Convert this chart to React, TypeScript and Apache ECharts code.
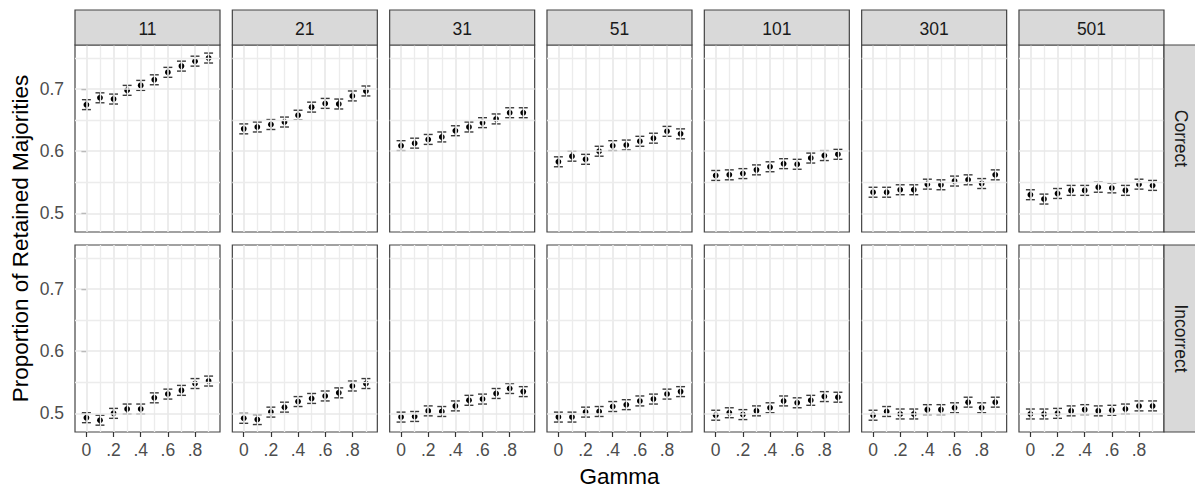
import React, { useEffect, useRef } from "react";
import * as echarts from "echarts";

const gammaValues = [0, 0.1, 0.2, 0.3, 0.4, 0.5, 0.6, 0.7, 0.8, 0.9];
const sizeLabels = ["11", "21", "31", "51", "101", "301", "501"];
const conditionLabels = ["Correct", "Incorrect"];

const correct11 = [0.675, 0.686, 0.684, 0.698, 0.706, 0.715, 0.727, 0.737, 0.745, 0.75];
const correct21 = [0.636, 0.639, 0.643, 0.647, 0.658, 0.671, 0.677, 0.676, 0.689, 0.697];
const correct31 = [0.609, 0.613, 0.619, 0.623, 0.633, 0.639, 0.646, 0.652, 0.662, 0.662];
const correct51 = [0.583, 0.592, 0.587, 0.6, 0.609, 0.61, 0.616, 0.621, 0.632, 0.628];
const correct101 = [0.561, 0.562, 0.564, 0.57, 0.575, 0.58, 0.579, 0.589, 0.593, 0.595];
const correct301 = [0.534, 0.534, 0.538, 0.538, 0.547, 0.546, 0.552, 0.554, 0.548, 0.562];
const correct501 = [0.53, 0.523, 0.532, 0.537, 0.537, 0.542, 0.541, 0.537, 0.547, 0.545];

const incorrect11 = [0.493, 0.489, 0.5, 0.507, 0.507, 0.525, 0.531, 0.537, 0.548, 0.552];
const incorrect21 = [0.492, 0.49, 0.502, 0.51, 0.519, 0.524, 0.528, 0.533, 0.544, 0.548];
const incorrect31 = [0.494, 0.495, 0.504, 0.503, 0.512, 0.521, 0.523, 0.532, 0.54, 0.535];
const incorrect51 = [0.494, 0.494, 0.502, 0.503, 0.511, 0.514, 0.52, 0.523, 0.531, 0.535];
const incorrect101 = [0.497, 0.501, 0.498, 0.504, 0.509, 0.52, 0.517, 0.521, 0.527, 0.526];
const incorrect301 = [0.497, 0.503, 0.499, 0.499, 0.506, 0.506, 0.509, 0.518, 0.509, 0.518];
const incorrect501 = [0.499, 0.499, 0.5, 0.504, 0.506, 0.504, 0.505, 0.507, 0.512, 0.512];

const correctRows = [correct11, correct21, correct31, correct51, correct101, correct301, correct501];
const incorrectRows = [incorrect11, incorrect21, incorrect31, incorrect51, incorrect101, incorrect301, incorrect501];

const errorMargin = 0.008;
const capHalfWidth = 0.033;

const xTickValues = [0, 0.2, 0.4, 0.6, 0.8];
const xMajorGrid = [0, 0.2, 0.4, 0.6, 0.8];
const xMinorGrid = [0.1, 0.3, 0.5, 0.7, 0.9];
const yTickValues = [0.5, 0.6, 0.7];
const yMinorGrid = [0.55, 0.65, 0.75];

const X_MIN = -0.084;
const X_MAX = 0.984;
const Y_MIN = 0.47;
const Y_MAX = 0.771;

const FONT = "'Liberation Sans', Arial, Helvetica, sans-serif";

const PANEL_LEFT0 = 75;
const PANEL_STEP = 157.33;
const PANEL_W = 145;
const ROW_TOPS = [45, 245];
const PANEL_H = 187;
const STRIP_H = 35;

export default function App() {
  const ref = useRef<HTMLDivElement>(null);

  useEffect(() => {
    if (!ref.current) return;
    const chart = echarts.init(ref.current, undefined, { renderer: "svg" });

    const grids: any[] = [];
    const xAxes: any[] = [];
    const yAxes: any[] = [];
    const series: any[] = [];
    const graphics: any[] = [];

    const rows = [correctRows, incorrectRows];

    rows.forEach((rowData, r) => {
      rowData.forEach((vals, c) => {
        const idx = r * 7 + c;
        const left = PANEL_LEFT0 + c * PANEL_STEP;
        const top = ROW_TOPS[r];
        grids.push({
          left,
          top,
          width: PANEL_W,
          height: PANEL_H,
          show: true,
          backgroundColor: "#ffffff",
          borderColor: "#444444",
          borderWidth: 1.2,
        });
        const isBottom = r === 1;
        const isLeft = c === 0;
        xAxes.push({
          type: "value",
          gridIndex: idx,
          min: X_MIN,
          max: X_MAX,
          axisLine: { show: false },
          splitLine: { show: false },
          axisTick: {
            show: isBottom,
            customValues: xTickValues,
            length: 5,
            lineStyle: { color: "#333333", width: 1.2 },
          },
          axisLabel: {
            show: isBottom,
            customValues: xTickValues,
            margin: 9,
            color: "#4d4d4d",
            fontSize: 17.5,
            fontFamily: FONT,
            formatter: (v: number) => (v === 0 ? "0" : "." + Math.round(v * 10)),
          },
        });
        yAxes.push({
          type: "value",
          gridIndex: idx,
          min: Y_MIN,
          max: Y_MAX,
          axisLine: { show: false },
          splitLine: { show: false },
          axisTick: {
            show: isLeft,
            customValues: yTickValues,
            length: 5,
            lineStyle: { color: "#333333", width: 1.2 },
          },
          axisLabel: {
            show: isLeft,
            customValues: yTickValues,
            margin: 11,
            color: "#4d4d4d",
            fontSize: 17.5,
            fontFamily: FONT,
            formatter: (v: number) => v.toFixed(1),
          },
        });

        const gridLineData: any[] = [];
        xMajorGrid.forEach((v) =>
          gridLineData.push({ xAxis: v, lineStyle: { color: "#e8e8e8", width: 1.6, type: "solid" } })
        );
        xMinorGrid.forEach((v) =>
          gridLineData.push({ xAxis: v, lineStyle: { color: "#ececec", width: 1.3, type: "solid" } })
        );
        yTickValues.forEach((v) =>
          gridLineData.push({ yAxis: v, lineStyle: { color: "#e8e8e8", width: 1.6, type: "solid" } })
        );
        yMinorGrid.forEach((v) =>
          gridLineData.push({ yAxis: v, lineStyle: { color: "#ececec", width: 1.3, type: "solid" } })
        );

        series.push({
          type: "scatter",
          xAxisIndex: idx,
          yAxisIndex: idx,
          data: [],
          z: 1,
          silent: true,
          markLine: {
            silent: true,
            symbol: ["none", "none"],
            label: { show: false },
            animation: false,
            data: gridLineData,
          },
        });

        series.push({
          type: "custom",
          xAxisIndex: idx,
          yAxisIndex: idx,
          z: 3,
          silent: true,
          encode: { x: 0, y: [1, 2, 3] },
          data: gammaValues.map((g, i) => [g, vals[i] - errorMargin, vals[i] + errorMargin, vals[i]]),
          renderItem: (params: any, api: any) => {
            const x = api.value(0);
            const lo = api.value(1);
            const hi = api.value(2);
            const mid = api.value(3);
            const pLo = api.coord([x, lo]);
            const pHi = api.coord([x, hi]);
            const pMid = api.coord([x, mid]);
            const l = api.coord([x - capHalfWidth, lo])[0];
            const rr = api.coord([x + capHalfWidth, lo])[0];
            const st = { stroke: "#3a3a3a", lineWidth: 1.4 };
            return {
              type: "group",
              children: [
                { type: "line", shape: { x1: pLo[0], y1: pLo[1], x2: pHi[0], y2: pHi[1] }, style: st },
                { type: "line", shape: { x1: l, y1: pLo[1], x2: rr, y2: pLo[1] }, style: st },
                { type: "line", shape: { x1: l, y1: pHi[1], x2: rr, y2: pHi[1] }, style: st },
                {
                  type: "circle",
                  shape: { cx: pMid[0], cy: pMid[1], r: 2.9 },
                  style: { fill: "#000000", stroke: "none" },
                },
              ],
            };
          },
        });
      });
    });

    // top strips
    sizeLabels.forEach((lab, c) => {
      const left = PANEL_LEFT0 + c * PANEL_STEP;
      graphics.push({
        type: "rect",
        shape: { x: left, y: ROW_TOPS[0] - STRIP_H, width: PANEL_W, height: STRIP_H },
        style: { fill: "#d9d9d9", stroke: "#444444", lineWidth: 1.2 },
        z: 10,
      });
      graphics.push({
        type: "text",
        x: left + PANEL_W / 2,
        y: ROW_TOPS[0] - STRIP_H / 2 + 1,
        style: {
          text: lab,
          fill: "#1a1a1a",
          font: `17.5px ${FONT}`,
          align: "center",
          verticalAlign: "middle",
        },
        z: 11,
      });
    });

    // right strips
    const rightX = PANEL_LEFT0 + 6 * PANEL_STEP + PANEL_W;
    conditionLabels.forEach((lab, r) => {
      graphics.push({
        type: "rect",
        shape: { x: rightX, y: ROW_TOPS[r], width: STRIP_H + 10, height: PANEL_H },
        style: { fill: "#d9d9d9", stroke: "#444444", lineWidth: 1.2 },
        z: 10,
      });
      graphics.push({
        type: "text",
        x: rightX + STRIP_H / 2,
        y: ROW_TOPS[r] + PANEL_H / 2,
        rotation: -Math.PI / 2,
        style: {
          text: lab,
          fill: "#1a1a1a",
          font: `17.5px ${FONT}`,
          align: "center",
          verticalAlign: "middle",
        },
        z: 11,
      });
    });

    // axis titles
    graphics.push({
      type: "text",
      x: (PANEL_LEFT0 + rightX) / 2,
      y: 476,
      style: {
        text: "Gamma",
        fill: "#000000",
        font: `22.5px ${FONT}`,
        align: "center",
        verticalAlign: "middle",
      },
    });
    graphics.push({
      type: "text",
      x: 20,
      y: (ROW_TOPS[0] + ROW_TOPS[1] + PANEL_H) / 2,
      rotation: Math.PI / 2,
      style: {
        text: "Proportion of Retained Majorities",
        fill: "#000000",
        font: `22.5px ${FONT}`,
        align: "center",
        verticalAlign: "middle",
      },
    });

    chart.setOption({
      animation: false,
      backgroundColor: "#ffffff",
      grid: grids,
      xAxis: xAxes,
      yAxis: yAxes,
      series,
      graphic: { elements: graphics },
    });

    return () => {
      chart.dispose();
    };
  }, []);

  return (
    <div
      ref={ref}
      style={{ position: "fixed", left: 0, top: 0, width: 1195, height: 488 }}
    />
  );
}
